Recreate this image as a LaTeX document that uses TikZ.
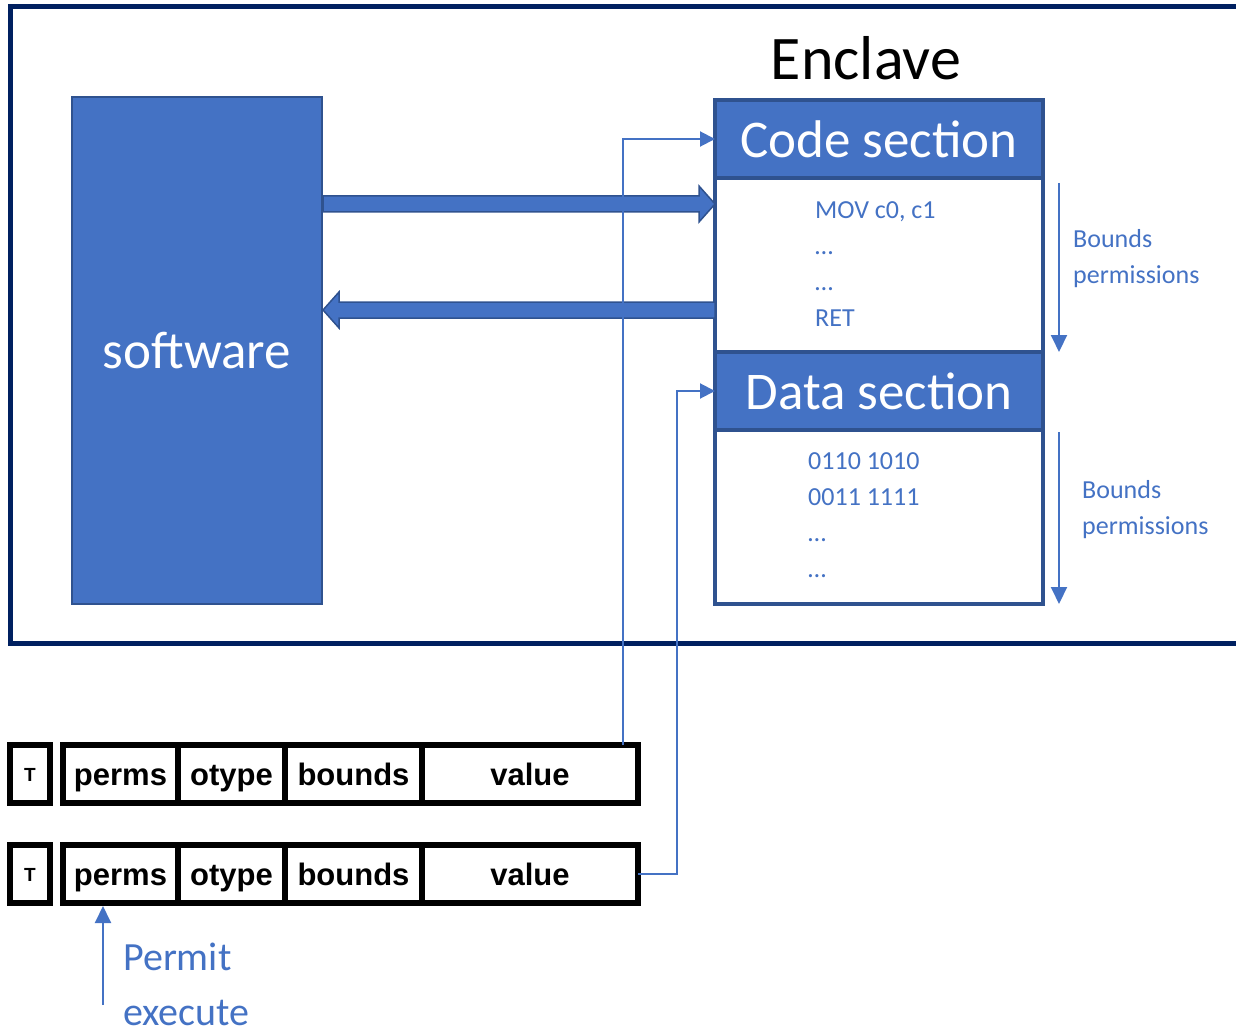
\documentclass[tikz,border=0pt]{standalone}
\usepackage{fontspec}
\setmainfont{Carlito}
\newfontfamily\fieldfont{Liberation Sans}
\usetikzlibrary{positioning,arrows.meta,calc}

\definecolor{accent}{HTML}{4472C4}
\definecolor{accentdark}{HTML}{2F528F}
\definecolor{navy}{HTML}{002060}

\tikzset{
  secbody/.style={draw=accentdark, fill=white, line width=4pt, minimum width=328pt,
    inner sep=0pt, outer sep=0pt},
  sechead/.style={secbody, fill=accent, text=white, minimum height=78pt,
    font=\fontsize{53}{60}\selectfont},
  field/.style={draw=black, line width=6pt, minimum height=58pt, inner sep=0pt,
    outer sep=0pt, text height=26pt, text depth=3pt,
    font=\fieldfont\bfseries\fontsize{31}{36}\selectfont},
  tagfield/.style={field, minimum width=40pt, text height=14pt, text depth=0pt,
    font=\fieldfont\bfseries\fontsize{19}{22}\selectfont},
  note/.style={text=accent, align=left, inner sep=0pt, font=\fontsize{26}{36}\selectfont},
  link/.style={accent, line width=2pt, -{Triangle[length=15pt,width=15pt]}},
  bndarrow/.style={accent, line width=2pt, -{Triangle[length=17pt,width=16pt]}},
  fatarrow/.style={fill=accent, draw=accentdark, line width=1.5pt}
}

% block arrow between two points on one horizontal line
\newcommand\fatarrow[2]{%
  \draw[fatarrow] let \p1=(#1), \p2=(#2), \n1={sign(\x2-\x1)} in
    (\x1,\y1+8) -- (\x2-\n1*16,\y1+8) -- (\x2-\n1*16,\y1+18) -- (\x2,\y1)
    -- (\x2-\n1*16,\y1-18) -- (\x2-\n1*16,\y1-8) -- (\x1,\y1-8) -- cycle;}

\begin{document}
\begin{tikzpicture}[x=1pt,y=-1pt]
\useasboundingbox (0,0) rectangle (1236,1032);

% enclave frame
\draw[navy, line width=5pt] (1250,7) -- (10,7) -- (10,643) -- (1250,643);
\node[anchor=base, font=\fontsize{62}{70}\selectfont] (enclave) at (866,80) {Enclave};

\node[draw=accentdark, fill=accent, line width=2pt, minimum width=250pt, minimum height=507pt,
  text=white, font=\fontsize{53}{60}\selectfont] (software) at (197,350.5) {software};

% sections
\node[sechead, anchor=north west] (codehead) at (715,100) {Code section};
\node[secbody, minimum height=174pt, below=0pt of codehead] (codebody) {};
\node[sechead, below=0pt of codebody] (datahead) {Data section};
\node[secbody, minimum height=174pt, below=0pt of datahead] (databody) {};

\node[note, anchor=north west] (codelines) at (815,201) {MOV c0, c1\\…\\…\\RET};
\node[note, anchor=north west] (datalines) at (808,452) {0110 1010\\0011 1111\\…\\…};

\coordinate (cb) at ($(codebody.north east)+(16,5)$);
\draw[bndarrow] (cb) -- (cb |- codebody.south);
\node[note, anchor=north west] (codebnd) at (1073,229) {Bounds\\permissions};
\coordinate (db) at ($(databody.north east)+(16,2)$);
\draw[bndarrow] (db) -- (db |- databody.south);
\node[note, anchor=north west] (databnd) at (1082,480) {Bounds\\permissions};

% calls and returns
\fatarrow{software.east |- 0,204}{codebody.west |- 0,204}
\fatarrow{codebody.west |- 0,310}{software.east |- 0,310}

% capabilities
\node[tagfield] (tag1) at (30,774) {T};
\node[field, minimum width=115pt, anchor=west] (perms1) at (63,774) {perms};
\node[field, minimum width=107pt, right=0pt of perms1] (otype1) {otype};
\node[field, minimum width=137pt, right=0pt of otype1] (bounds1) {bounds};
\node[field, minimum width=216pt, right=0pt of bounds1] (value1) {value};

\node[tagfield] (tag2) at (30,874) {T};
\node[field, minimum width=115pt, anchor=west] (perms2) at (63,874) {perms};
\node[field, minimum width=107pt, right=0pt of perms2] (otype2) {otype};
\node[field, minimum width=137pt, right=0pt of otype2] (bounds2) {bounds};
\node[field, minimum width=216pt, right=0pt of bounds2] (value2) {value};

% pointers into the enclave
\coordinate (up1) at ($(value1.north east)+(-15,0)$);
\draw[link] (up1) |- (codehead.west);
\coordinate (turn2) at (677,874);
\draw[link] (value2.east) -- (turn2) |- (datahead.west);

\coordinate (pe) at (103,1005);
\draw[bndarrow, shorten >=3pt] (pe) -- (pe |- perms2.south);
\node[note, anchor=north west, font=\fontsize{40}{55}\selectfont] (permit) at (123,943) {Permit\\execute};
\end{tikzpicture}
\end{document}
